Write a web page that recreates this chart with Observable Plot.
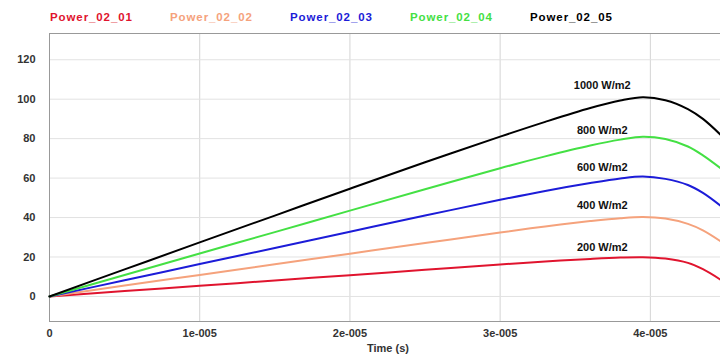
<!DOCTYPE html>
<html>
<head>
<meta charset="utf-8">
<script src="https://cdn.jsdelivr.net/npm/d3@7"></script>
<script src="https://cdn.jsdelivr.net/npm/@observablehq/plot@0.6"></script>
<style>
  html, body { margin: 0; padding: 0; background: #fff; }
  #wrap { width: 720px; height: 359px; position: relative; overflow: hidden; font-family: "Liberation Sans", Arial, sans-serif; }
  #legend { position: relative; height: 32px; }
  #legend span { position: absolute; top: 11px; font-weight: bold; font-size: 11.5px; letter-spacing: 0.9px; white-space: nowrap; }
  svg { display: block; }
</style>
</head>
<body>
<div id="wrap">
  <div id="legend"></div>
  <div id="chart"></div>
</div>
<script>
// ---- data ----
const seriesNames = ["Power_02_01", "Power_02_02", "Power_02_03", "Power_02_04", "Power_02_05"];
const seriesColors = ["#e0142e", "#f5a27c", "#1c1cd8", "#44e044", "#000000"];
const time = [0, 0.5e-5, 1e-5, 1.5e-5, 2e-5, 2.5e-5, 3e-5, 3.3e-5, 3.6e-5, 3.8e-5, 3.95e-5, 4.1e-5, 4.25e-5, 4.35e-5, 4.467e-5];
const power_02_01 = [0, 2.7, 5.4, 8.1, 10.8, 13.5, 16.2, 17.7, 19.0, 19.7, 19.9, 19.2, 17.0, 13.8, 8.5];
const power_02_02 = [0, 5.5, 10.9, 16.3, 21.7, 27.1, 32.4, 35.5, 38.2, 39.7, 40.3, 39.5, 36.8, 33.5, 28.0];
const power_02_03 = [0, 8.2, 16.4, 24.6, 32.8, 41.0, 49.0, 53.5, 57.5, 59.8, 60.8, 59.6, 56.5, 52.5, 46.0];
const power_02_04 = [0, 10.9, 21.8, 32.6, 43.5, 54.3, 65.0, 71.0, 76.5, 79.5, 81.0, 79.8, 76.0, 71.5, 65.0];
const power_02_05 = [0, 13.7, 27.4, 41.0, 54.6, 68.0, 81.0, 88.5, 95.5, 99.3, 101.0, 99.5, 95.0, 90.0, 82.0];
const seriesValues = [power_02_01, power_02_02, power_02_03, power_02_04, power_02_05];

const xTicks = [0, 1e-5, 2e-5, 3e-5, 4e-5];
const xTickLabels = ["0", "1e-005", "2e-005", "3e-005", "4e-005"];
const yTicks = [0, 20, 40, 60, 80, 100, 120];
const xTitle = "Time (s)";

const annotText = ["1000 W/m2", "800 W/m2", "600 W/m2", "400 W/m2", "200 W/m2"];
const annotTime = [3.68e-5, 3.68e-5, 3.68e-5, 3.68e-5, 3.68e-5];
const annotValue = [107, 84.2, 65.4, 46.1, 24.8];

// ---- legend ----
const legend = document.getElementById("legend");
seriesNames.forEach((n, i) => {
  const s = document.createElement("span");
  s.textContent = n;
  s.style.left = (50 + i * 120) + "px";
  s.style.color = seriesColors[i];
  legend.appendChild(s);
});

// ---- table ----
const rows = [];
seriesNames.forEach((n, i) => {
  time.forEach((t, j) => rows.push({series: n, t, p: seriesValues[i][j]}));
});
const annots = annotText.map((txt, i) => ({txt, t: annotTime[i], p: annotValue[i]}));

const chart = Plot.plot({
  width: 720,
  height: 327,
  marginTop: 1,
  marginBottom: 38,
  marginLeft: 49,
  marginRight: 0,
  style: {fontFamily: "Liberation Sans, Arial, sans-serif", fontSize: "11px", fontWeight: "bold", color: "#333", background: "#fff"},
  x: {domain: [0, 4.467e-5], ticks: xTicks, tickFormat: (d) => xTickLabels[xTicks.indexOf(d)], tickSize: 0, tickPadding: 8, label: null},
  y: {domain: [-12.7, 133.3], ticks: yTicks, tickSize: 0, tickPadding: 14, label: null},
  color: {domain: seriesNames, range: seriesColors},
  marks: [
    Plot.gridX(xTicks, {stroke: "#d4d4d4", strokeOpacity: 1}),
    Plot.gridY(yTicks, {stroke: "#e2e2e2", strokeOpacity: 1}),
    Plot.frame({anchor: "top", stroke: "#999"}),
    Plot.frame({anchor: "bottom", stroke: "#999"}),
    Plot.frame({anchor: "left", stroke: "#999"}),
    Plot.line(rows, {x: "t", y: "p", z: "series", stroke: "series", strokeWidth: 2, curve: "catmull-rom"}),
    Plot.text(annots, {x: "t", y: "p", text: "txt", fontSize: 11, fontWeight: "bold", fill: "#111"}),
    Plot.text([xTitle], {frameAnchor: "bottom", dy: 30, dx: 3, text: (d) => d, fontSize: 11, fontWeight: "bold", fill: "#333"})
  ]
});
document.getElementById("chart").appendChild(chart);
</script>
</body>
</html>
